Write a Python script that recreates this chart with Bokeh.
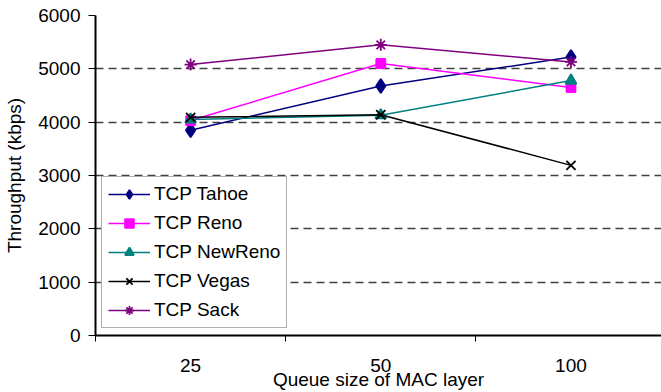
from bokeh.plotting import figure
from bokeh.models import Range1d, FixedTicker, Legend
from bokeh.embed import file_html
from bokeh.resources import INLINE

# Queue sizes of the MAC layer (categories) and throughput per TCP variant (kbps)
queue_sizes = ["25", "50", "100"]
tahoe = [3850, 4680, 5220]
reno = [4030, 5100, 4650]
newreno = [4050, 4130, 4780]
vegas = [4090, 4140, 3190]
sack = [5080, 5450, 5130]
y_ticks = [0, 1000, 2000, 3000, 4000, 5000, 6000]

FONT = "Liberation Sans"
FSIZE = "19px"

xs = list(range(1, len(queue_sizes) + 1))

p = figure(
    width=661, height=392,
    output_backend="svg", toolbar_location=None,
    x_range=Range1d(0.5, 3.476), y_range=Range1d(0, 6000),
    min_border_left=95, min_border_right=0,
    min_border_top=15, min_border_bottom=57,
)
p.outline_line_color = None
p.background_fill_color = "white"
p.border_fill_color = "white"

series = [
    ("TCP Tahoe", tahoe, "#000080", "diamond", 14),
    ("TCP Reno", reno, "#FF00FF", "square", 9),
    ("TCP NewReno", newreno, "#008080", "triangle", 11),
    ("TCP Vegas", vegas, "#000000", "x", 13),
    ("TCP Sack", sack, "#800080", "asterisk", 12),
]

items = []
for name, vals, color, marker, size in series:
    ln = p.line(xs, vals, line_color=color, line_width=1.5)
    sc = p.scatter(xs, vals, marker=marker, size=size,
                   fill_color=color, line_color=color, line_width=1.8)
    items.append((name, [ln, sc]))

# x axis: labels under each category, short ticks at the category boundaries
xa = p.xaxis[0]
xa.ticker = FixedTicker(ticks=xs, minor_ticks=[0.5, 1.5, 2.5, 3.5])
xa.major_label_overrides = {x: q for x, q in zip(xs, queue_sizes)}
xa.major_tick_out = 0
xa.major_tick_in = 0
xa.minor_tick_out = 6
xa.minor_tick_in = 0
xa.minor_tick_line_color = "black"
xa.minor_tick_line_width = 1
xa.axis_line_width = 2
xa.axis_line_color = "black"
xa.major_label_standoff = 17
xa.axis_label = "Queue size of MAC layer"
xa.axis_label_standoff = -6
xa.major_label_text_font = FONT
xa.major_label_text_font_size = FSIZE
xa.major_label_text_color = "black"
xa.axis_label_text_font = FONT
xa.axis_label_text_font_size = FSIZE
xa.axis_label_text_font_style = "normal"
xa.axis_label_text_color = "black"

ya = p.yaxis[0]
ya.ticker = FixedTicker(ticks=y_ticks)
ya.major_tick_out = 7
ya.major_tick_in = 0
ya.minor_tick_out = 0
ya.minor_tick_in = 0
ya.axis_line_width = 2
ya.axis_line_color = "black"
ya.major_tick_line_color = "black"
ya.major_label_standoff = 8
ya.axis_label = "Throughput (kbps)"
ya.axis_label_standoff = 10
ya.major_label_text_font = FONT
ya.major_label_text_font_size = FSIZE
ya.major_label_text_color = "black"
ya.axis_label_text_font = FONT
ya.axis_label_text_font_size = FSIZE
ya.axis_label_text_font_style = "normal"
ya.axis_label_text_color = "black"

p.xgrid.visible = False
p.ygrid.ticker = FixedTicker(ticks=y_ticks)
p.ygrid.grid_line_color = "#404040"
p.ygrid.grid_line_width = 1.5
p.ygrid.grid_line_dash = "8 5"

legend = Legend(items=items, location=(6, 7))
legend.label_text_font = FONT
legend.label_text_font_size = FSIZE
legend.label_text_color = "black"
legend.glyph_width = 42
legend.glyph_height = 22
legend.label_height = 22
legend.label_standoff = 4
legend.spacing = 7
legend.padding = 6
legend.margin = 0
legend.border_line_color = "#606060"
legend.border_line_width = 1.5
legend.background_fill_color = "white"
legend.background_fill_alpha = 1
p.add_layout(legend, "center")

open("out.html", "w").write(file_html(p, INLINE))
